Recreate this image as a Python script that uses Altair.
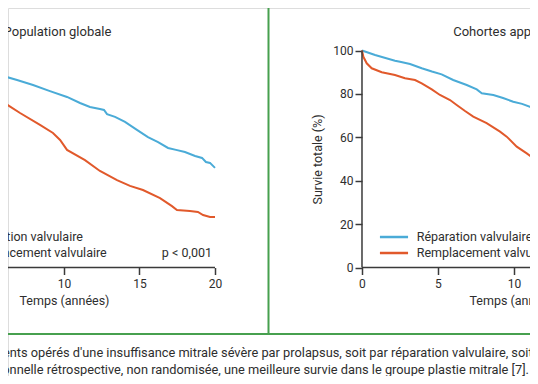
import altair as alt
import pandas as pd

# ---------------- data ----------------
# Left panel: "Population globale" (only t >= ~5.8 is visible)
glob_rep_t = [5.76, 6.89, 7.95, 9.07, 10.20, 11.06, 11.72, 12.38, 12.65, 12.85, 13.38, 14.04,
              14.83, 15.56, 16.23, 16.89, 17.42, 18.01, 18.68, 19.14, 19.40, 19.67, 20.0]
glob_rep_v = [88.7, 86.4, 84.1, 81.3, 78.6, 75.8, 74.0, 73.0, 72.6, 70.7, 69.4, 67.1,
              63.4, 60.1, 57.8, 55.1, 54.2, 53.2, 51.4, 50.5, 48.6, 48.2, 45.9]
glob_rem_t = [5.76, 7.09, 8.41, 9.27, 9.74, 10.20, 11.39, 12.38, 13.51, 14.37, 15.23, 16.36,
              17.15, 17.48, 18.34, 18.87, 19.21, 19.67, 20.0]
glob_rem_v = [77.2, 71.2, 65.7, 62.0, 58.8, 54.2, 49.5, 44.5, 40.3, 37.6, 35.7, 32.0,
              28.3, 26.5, 26.0, 25.6, 24.2, 23.3, 23.3]

# Right panel: "Cohortes appariées" (visible up to t ~ 11.6)
coh_rep_t = [0, 0.86, 2.17, 2.50, 3.16, 3.93, 4.60, 5.24, 6.00, 6.89, 7.55, 7.88, 8.64,
             9.28, 9.95, 10.53, 11.05, 11.49, 12.0]
coh_rep_v = [100, 97.9, 95.3, 94.8, 93.8, 91.8, 90.3, 89.0, 86.4, 84.1, 82.1, 80.3, 79.5,
             78.1, 76.4, 75.4, 74.1, 71.8, 70.5]
coh_rem_t = [0, 0.09, 0.31, 0.64, 1.30, 2.17, 2.83, 3.49, 3.93, 4.59, 5.13, 5.79, 6.23,
             6.78, 7.32, 8.20, 9.08, 9.52, 10.18, 10.84, 11.60]
coh_rem_v = [100, 97.1, 94.1, 91.8, 90.0, 88.7, 87.2, 86.4, 84.9, 82.1, 79.5, 77.2, 74.9,
             72.1, 69.5, 66.5, 62.6, 60.3, 55.7, 52.6, 48.8]

series_names = ["Réparation valvulaire", "Remplacement valvulaire"]
series_colors = ["#4aabd7", "#e1592b"]
x_ticks = [0, 5, 10, 15, 20]
y_ticks = [0, 20, 40, 60, 80, 100]
panel_titles = ["Population globale", "Cohortes appariées"]
p_value_text = "p < 0,001"
x_title = "Temps (années)"
y_title = "Survie totale (%)"
caption_1 = ("patients opérés d'une insuffisance mitrale sévère par prolapsus, soit par "
             "réparation valvulaire, soit par remplacement valvulaire.")
caption_2 = ("observationnelle rétrospective, non randomisée, une meilleure survie dans "
             "le groupe plastie mitrale [7].")

# ---------------- layout (the figure is a crop of a larger one) ----------------
W, H = 522, 368
X_LEFT = [6.2914, 40.861]     # left panel time scale over the visible width
X_RIGHT = [-23.289, 11.053]   # right panel time scale over the visible width
Y_DOM = [-50.0, 119.59]       # survival scale over the chart height
AXIS_OFFSET = 259.5 - H       # x axes sit at survival = 0

TXT = "#2e2e2e"
AX = "#3a3a3a"
FONT = "Roboto"
GREEN = "#47a04f"
FS = 12.5

one = pd.DataFrame({"k": [0]})


def lines_df(t_rep, v_rep, t_rem, v_rem):
    return pd.concat([
        pd.DataFrame({"t": t_rep, "v": v_rep, "serie": series_names[0]}),
        pd.DataFrame({"t": t_rem, "v": v_rem, "serie": series_names[1]}),
    ])


def xs(dom):
    return alt.Scale(domain=dom, nice=False, zero=False)


ys = alt.Scale(domain=Y_DOM, nice=False, zero=False)


def x_axis(title_x):
    return alt.Axis(values=x_ticks, orient="bottom", offset=AXIS_OFFSET, domain=False, grid=False,
                    tickSize=7, tickWidth=1.5, tickColor=AX, labelFontSize=12, labelColor=TXT,
                    labelFont=FONT, labelPadding=4, labelFlush=False, labelOverlap=False,
                    title=x_title, titleX=title_x, titleFontSize=FS, titleFont=FONT,
                    titleFontWeight="normal", titleColor=TXT, titlePadding=5)


y_axis = alt.Axis(values=y_ticks, orient="left", offset=-354, domain=False, grid=False,
                  tickSize=7, tickWidth=1.5, tickColor=AX, labelFontSize=12, labelColor=TXT,
                  labelFont=FONT, labelPadding=2, labelFlush=False, labelOverlap=False,
                  title=y_title, titleY=151, titleFontSize=FS, titleFont=FONT,
                  titleFontWeight="normal", titleColor=TXT, titlePadding=8)

color_scale = alt.Scale(domain=series_names, range=series_colors)


def panel(dom, df, title, xaxis, yaxis, show_p):
    layers = []
    layers.append(
        alt.Chart(df).mark_line(strokeWidth=2, interpolate="linear").encode(
            x=alt.X("t:Q", scale=xs(dom), axis=xaxis),
            y=alt.Y("v:Q", scale=ys, axis=yaxis),
            color=alt.Color("serie:N", scale=color_scale, legend=None),
            detail="serie:N",
        )
    )
    layers.append(alt.Chart(one).mark_rule(color=AX, strokeWidth=1.5).encode(
        x=alt.XDatum(0, scale=xs(dom), axis=None), x2=alt.X2Datum(20),
        y=alt.YDatum(0, scale=ys, axis=None)))
    layers.append(alt.Chart(one).mark_rule(color=AX, strokeWidth=1.5).encode(
        x=alt.XDatum(0, scale=xs(dom), axis=None),
        y=alt.YDatum(0, scale=ys, axis=None), y2=alt.Y2Datum(100)))
    layers.append(alt.Chart(one).mark_text(align="left", baseline="middle", fontSize=13,
                                           font=FONT, color=TXT).encode(
        x=alt.XDatum(6.0, scale=xs(dom), axis=None),
        y=alt.YDatum(108.7, scale=ys, axis=None),
        text=alt.value(title)))
    for i, yv in enumerate([14.05, 6.68]):
        layers.append(alt.Chart(one).mark_rule(color=series_colors[i], strokeWidth=2.5).encode(
            x=alt.XDatum(1.18, scale=xs(dom), axis=None), x2=alt.X2Datum(3.03),
            y=alt.YDatum(yv, scale=ys, axis=None)))
        layers.append(alt.Chart(one).mark_text(align="left", baseline="middle", fontSize=FS,
                                               font=FONT, color=TXT).encode(
            x=alt.XDatum(3.6, scale=xs(dom), axis=None),
            y=alt.YDatum(yv, scale=ys, axis=None),
            text=alt.value(series_names[i])))
    if show_p:
        layers.append(alt.Chart(one).mark_text(align="right", baseline="middle", fontSize=FS,
                                               font=FONT, color=TXT).encode(
            x=alt.XDatum(19.8, scale=xs(dom), axis=None),
            y=alt.YDatum(6.68, scale=ys, axis=None),
            text=alt.value(p_value_text)))
    return layers


left = panel(X_LEFT, lines_df(glob_rep_t, glob_rep_v, glob_rem_t, glob_rem_v),
             panel_titles[0], x_axis(56), None, True)
right = panel(X_RIGHT, lines_df(coh_rep_t, coh_rep_v, coh_rem_t, coh_rem_v),
              panel_titles[1], x_axis(506), y_axis, True)

caption = [
    alt.Chart(one).mark_text(align="left", baseline="alphabetic", fontSize=12.8, font=FONT,
                             color=TXT).encode(
        x=alt.XDatum(4.536, scale=xs(X_LEFT), axis=None),
        y=alt.YDatum(-41.24, scale=ys, axis=None),
        text=alt.value(caption_1)),
    alt.Chart(one).mark_text(align="right", baseline="alphabetic", fontSize=12.8, font=FONT,
                             color=TXT).encode(
        x=alt.XDatum(40.79, scale=xs(X_LEFT), axis=None),
        y=alt.YDatum(-48.85, scale=ys, axis=None),
        text=alt.value(caption_2)),
]

# green frame of the two boxes (decoration)
frame = [
    alt.Chart(one).mark_rule(color=GREEN, strokeWidth=2).encode(
        x=alt.value(260.5), y=alt.value(0), y2=alt.value(326)),
    alt.Chart(one).mark_rule(color=GREEN, strokeWidth=2).encode(
        x=alt.value(0), x2=alt.value(W), y=alt.value(326)),
]

chart = alt.layer(*(frame + left + right + caption)).resolve_scale(
    x="independent", y="independent"
).properties(
    width=W, height=H, autosize=alt.AutoSizeParams(type="none"), padding=0
).configure_view(stroke=None).configure(font=FONT)

chart.save("out.html", embed_options={"renderer": "svg", "actions": False})
